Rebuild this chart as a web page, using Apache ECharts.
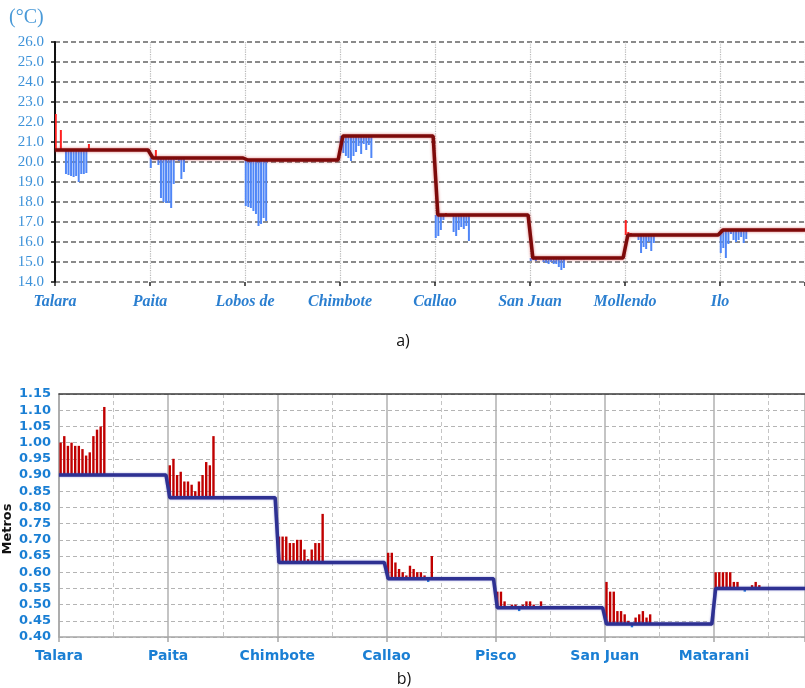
<!DOCTYPE html>
<html>
<head>
<meta charset="utf-8">
<script src="https://cdn.jsdelivr.net/npm/echarts@6/dist/echarts.min.js"></script>
<style>
  html, body { margin: 0; padding: 0; background: #fff; }
  #chart { width: 805px; height: 688px; }
</style>
</head>
<body>
<div id="chart"></div>
<script>
// ---------- a) Sea surface temperature (°C) ----------
const tempStations = ['Talara', 'Paita', 'Lobos de', 'Chimbote', 'Callao', 'San Juan', 'Mollendo', 'Ilo'];
const tempNormals = [20.6, 20.2, 20.1, 21.3, 17.35, 15.2, 16.35, 16.6];
// daily values per station (null = no departure drawn)
const tempTalara   = [22.4, null, 21.6, null, 19.4, 19.35, 19.3, 19.25, 19.3, 19.0, 19.4, 19.4, 19.45, 20.9];
const tempPaita    = [19.7, null, 20.6, 19.85, 18.2, 18.0, 17.95, 17.95, 17.7, 18.9, 20.1, 20.05, 19.15, 19.5];
const tempLobos    = [17.8, 17.75, 17.7, 17.55, 17.4, 16.8, 16.9, 17.2, 17.05];
const tempChimbote = [20.8, 20.45, 20.3, 20.2, 20.05, 20.3, 20.5, 20.8, 20.4, 20.9, 20.6, 20.85, 20.2];
const tempCallao   = [16.2, 16.3, 16.6, 17.1, 17.45, null, null, 16.5, 16.3, 16.6, 16.75, 16.65, 16.8, 16.05];
const tempSanJuan  = [15.05, 15.1, 15.05, null, null, 15.0, 14.95, 14.9, 15.0, 14.9, 14.9, 14.75, 14.6, 14.7];
const tempMollendo = [17.1, 16.5, 16.45, null, null, 16.1, 15.45, 15.75, 15.65, 16.0, 15.55, 15.95];
const tempIlo      = [15.45, 15.7, 15.2, 15.9, 16.4, 16.1, 16.0, 16.1, 16.25, 15.95, 16.15];
const tempDaily = [tempTalara, tempPaita, tempLobos, tempChimbote, tempCallao, tempSanJuan, tempMollendo, tempIlo];
const tempTicks = [14, 15, 16, 17, 18, 19, 20, 21, 22, 23, 24, 25, 26];

// ---------- b) Sea level (m) ----------
const levelStations = ['Talara', 'Paita', 'Chimbote', 'Callao', 'Pisco', 'San Juan', 'Matarani'];
const levelNormals = [0.90, 0.83, 0.63, 0.58, 0.49, 0.44, 0.55];
const levelTalara   = [1.00, 1.02, 0.99, 1.00, 0.99, 0.99, 0.98, 0.96, 0.97, 1.02, 1.04, 1.05, 1.11];
const levelPaita    = [0.93, 0.95, 0.90, 0.91, 0.88, 0.88, 0.87, 0.85, 0.88, 0.90, 0.94, 0.93, 1.02];
const levelChimbote = [0.71, 0.71, 0.71, 0.69, 0.69, 0.70, 0.70, 0.67, 0.64, 0.67, 0.69, 0.69, 0.78];
const levelCallao   = [0.66, 0.66, 0.63, 0.61, 0.60, 0.59, 0.62, 0.61, 0.60, 0.60, 0.59, 0.57, 0.65];
const levelPisco    = [0.54, 0.54, 0.51, 0.49, 0.50, 0.50, 0.48, 0.50, 0.51, 0.51, 0.50, 0.49, 0.51];
const levelSanJuan  = [0.57, 0.54, 0.54, 0.48, 0.48, 0.47, 0.45, 0.43, 0.46, 0.47, 0.48, 0.46, 0.47];
const levelMatarani = [0.60, 0.60, 0.60, 0.60, 0.60, 0.57, 0.57, 0.55, 0.54, 0.55, 0.56, 0.57, 0.56];
const levelDaily = [levelTalara, levelPaita, levelChimbote, levelCallao, levelPisco, levelSanJuan, levelMatarani];

// ---------- layout constants ----------
const TOP_XMAX = 750 / 95;        // axis span in station units
const BOT_XMAX = 746 / 109.17;
const TOP_SLOT = 2.55 / 95;       // spacing between daily bars
const TOP_OFF = 0.008;
const BOT_SLOT = 1 / 30;
const BOT_OFF = 0.015;

function buildBars(daily, normals, slot, off) {
  const out = [];
  daily.forEach((days, i) => {
    days.forEach((v, k) => {
      if (v != null) out.push([i + off + k * slot, normals[i], v]);
    });
  });
  return out;
}

function buildStep(normals, xmax, before, after) {
  const pts = [[0, normals[0]]];
  for (let i = 1; i < normals.length; i++) {
    pts.push([i - before, normals[i - 1]]);
    pts.push([i + after, normals[i]]);
  }
  pts.push([xmax, normals[normals.length - 1]]);
  return pts;
}

function barRenderer(width, upColor, downColor) {
  return function (params, api) {
    const x = api.value(0), base = api.value(1), v = api.value(2);
    const p0 = api.coord([x, base]);
    const p1 = api.coord([x, v]);
    const h = Math.abs(p1[1] - p0[1]);
    return {
      type: 'rect',
      shape: { x: p0[0] - width / 2, y: Math.min(p0[1], p1[1]), width: width, height: Math.max(h, 0.5) },
      style: { fill: v >= base ? upColor : downColor }
    };
  };
}

const isInt = v => Math.abs(v - Math.round(v)) < 1e-6;

const chart = echarts.init(document.getElementById('chart'), null, { renderer: 'canvas' });

chart.setOption({
  animation: false,
  backgroundColor: '#ffffff',
  grid: [
    { left: 55, right: 0, top: 42, height: 240, outerBoundsMode: 'none' },
    { left: 59, right: 0, top: 394, height: 243, outerBoundsMode: 'none' }
  ],
  xAxis: [
    {
      gridIndex: 0, type: 'value', min: 0, max: TOP_XMAX, interval: 1,
      axisLine: { show: false },
      axisTick: { show: true, length: 4, lineStyle: { color: '#222', width: 1.5 } },
      axisLabel: {
        margin: 12,
        formatter: v => isInt(v) ? (tempStations[Math.round(v)] || '') : '',
        color: '#2b7fd0', fontFamily: 'Liberation Serif', fontStyle: 'italic', fontWeight: 'bold', fontSize: 16
      },
      splitLine: { show: true, lineStyle: { color: '#b8b8b8', type: 'dotted', width: 1.2 } }
    },
    {
      gridIndex: 1, type: 'value', min: 0, max: BOT_XMAX, interval: 1,
      axisLine: { show: true, lineStyle: { color: '#a6a6a6', width: 1.5 } },
      axisTick: { show: true, length: 5, lineStyle: { color: '#a6a6a6', width: 1.5 } },
      axisLabel: {
        margin: 12,
        formatter: v => isInt(v) ? (levelStations[Math.round(v)] || '') : '',
        color: '#1a7fd4', fontFamily: 'DejaVu Sans', fontWeight: 'bold', fontSize: 14
      },
      splitLine: { show: true, lineStyle: { color: '#b0b0b0', width: 1.5 } },
      minorTick: { show: false, splitNumber: 2 },
      minorSplitLine: { show: true, lineStyle: { color: '#c4c4c4', type: [4, 3], width: 1 } }
    },
    {
      gridIndex: 1, type: 'value', position: 'top', min: 0, max: BOT_XMAX,
      axisLine: { show: true, lineStyle: { color: '#3a3a3a', width: 1.5 } },
      axisTick: { show: false }, axisLabel: { show: false }, splitLine: { show: false }
    }
  ],
  yAxis: [
    {
      gridIndex: 0, type: 'value', min: tempTicks[0], max: tempTicks[tempTicks.length - 1], interval: 1,
      axisLine: { show: true, lineStyle: { color: '#111', width: 2 } },
      axisTick: { show: true, length: 4, lineStyle: { color: '#111', width: 1.5 } },
      axisLabel: {
        margin: 11, formatter: v => v.toFixed(1),
        color: '#3d92d9', fontFamily: 'Liberation Serif', fontSize: 15
      },
      splitLine: { show: true, lineStyle: { color: '#8a8a8a', type: [5, 3], width: 1.8 } }
    },
    {
      gridIndex: 1, type: 'value', min: 0.40, max: 1.15, interval: 0.05,
      axisLine: { show: true, lineStyle: { color: '#a6a6a6', width: 1.5 } },
      axisTick: { show: false },
      axisLabel: {
        margin: 8, formatter: v => v.toFixed(2),
        color: '#1a7fd4', fontFamily: 'DejaVu Sans', fontWeight: 'bold', fontSize: 13
      },
      splitLine: { show: true, lineStyle: { color: '#b4b4b4', type: [4, 3], width: 1 } }
    }
  ],
  graphic: [
    { type: 'text', left: 9, top: 8, style: { text: '(°C)', fill: '#4a9ad8', font: '20px "Liberation Serif"' } },
    { type: 'text', x: 403, y: 341, style: { text: 'a)', fill: '#111', font: '16px "Open Sans"', align: 'center', verticalAlign: 'middle' } },
    { type: 'text', x: 404, y: 679, style: { text: 'b)', fill: '#111', font: '16px "Open Sans"', align: 'center', verticalAlign: 'middle' } },
    { type: 'text', x: 8, y: 529, rotation: Math.PI / 2, style: { text: 'Metros', fill: '#111', font: 'bold 13px "DejaVu Sans"', align: 'center', verticalAlign: 'middle' } }
  ],
  series: [
    {
      type: 'custom', xAxisIndex: 0, yAxisIndex: 0, clip: true, z: 2,
      renderItem: barRenderer(2, '#ff2020', '#4f86f7'),
      encode: { x: 0, y: [1, 2] },
      data: buildBars(tempDaily, tempNormals, TOP_SLOT, TOP_OFF)
    },
    {
      type: 'line', xAxisIndex: 0, yAxisIndex: 0, z: 3, symbol: 'none', clip: true,
      lineStyle: { color: '#7d0a0a', width: 3.5, shadowColor: 'rgba(200,40,40,0.6)', shadowBlur: 3 },
      data: buildStep(tempNormals, TOP_XMAX, 0.02, 0.03)
    },
    {
      type: 'custom', xAxisIndex: 1, yAxisIndex: 1, clip: true, z: 2,
      renderItem: barRenderer(2.4, '#c00000', '#1f78d8'),
      encode: { x: 0, y: [1, 2] },
      data: buildBars(levelDaily, levelNormals, BOT_SLOT, BOT_OFF)
    },
    {
      type: 'line', xAxisIndex: 1, yAxisIndex: 1, z: 3, symbol: 'none', clip: true,
      lineStyle: { color: '#2e3192', width: 3.5, shadowColor: 'rgba(60,60,180,0.5)', shadowBlur: 2 },
      data: buildStep(levelNormals, BOT_XMAX, 0.02, 0.015)
    }
  ]
});
</script>
</body>
</html>
